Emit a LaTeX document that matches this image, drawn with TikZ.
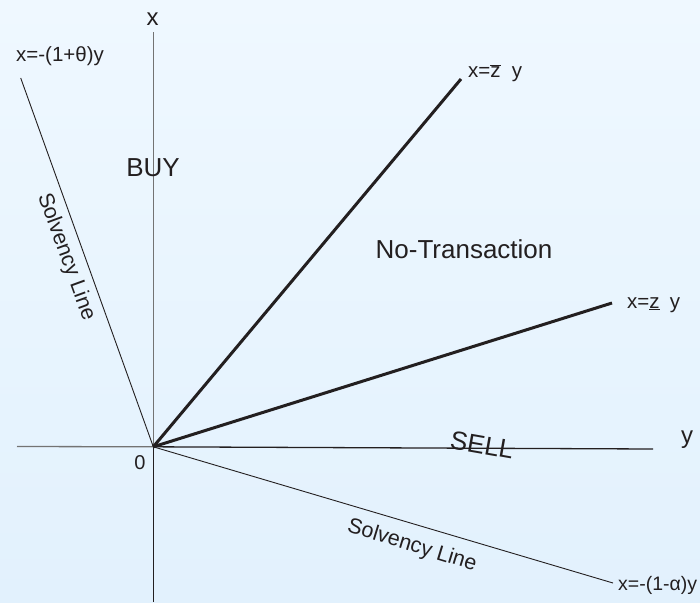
\documentclass[tikz,border=0pt]{standalone}
\usepackage{fontspec}
\setmainfont{Liberation Sans}
\definecolor{bgtop}{RGB}{239,248,255}
\definecolor{bgbot}{RGB}{226,241,253}
\definecolor{ink}{RGB}{35,31,32}
\definecolor{axisgray}{RGB}{115,115,115}
\begin{document}
\begin{tikzpicture}[x=1pt,y=-1pt,
  lbl/.style={inner sep=0pt, text=ink},
  eqlabel/.style={lbl, font=\fontsize{20.5}{24}\selectfont, anchor=base west},
  region/.style={lbl, font=\fontsize{26}{30}\selectfont},
  axislabel/.style={lbl, font=\fontsize{24}{28}\selectfont},
  slabel/.style={lbl, font=\fontsize{21.5}{25}\selectfont},
  axisgrey/.style={draw=axisgray, line width=1.3pt},
  axisdark/.style={draw=ink, line width=1.3pt},
  solvency/.style={draw=ink, line width=0.9pt},
  boundary/.style={draw=ink, line width=3pt}]
% background
\shade[top color=bgtop, bottom color=bgbot] (0,0) rectangle (700,602);
\useasboundingbox (0,0) rectangle (700,602);

% reference points
\coordinate (O) at (153.3,446.8);
\coordinate (xtop) at (153.3,32);
\coordinate (xbot) at (153.3,602);
\coordinate (yleft) at (17,446.5);
\coordinate (yright) at (653,449);
\coordinate (buyend) at (20.7,78);
\coordinate (sellend) at (613,583);
\coordinate (zupend) at (461,79);
\coordinate (zloend) at (612,303);

% axes
\draw[axisgrey] (O) -- (xtop);
\draw[axisgrey] (O) -- (yleft);
\draw[axisdark] (O) -- (xbot);
\draw[axisdark] (O) -- (yright);

% solvency lines
\draw[solvency] (O) -- (buyend);
\draw[solvency] (O) -- (sellend);

% no-transaction boundaries
\draw[boundary] (O) -- (zupend);
\draw[boundary] (O) -- (zloend);

% axis labels
\node[axislabel] (xlab) at (152.7,19) {x};
\node[axislabel] (ylab) at (687,440) {y};
\node[lbl, font=\fontsize{20}{24}\selectfont] (zero) at (140,463) {0};

% line labels
\node[eqlabel] (buylab) at (16,61.7) {x=-(1+θ)y};
\node[eqlabel, font=\fontsize{19.5}{23}\selectfont] (sellab) at (618,590) {x=-(1-α)y};
\node[eqlabel] (zuplab) at (468,77) {x=\ensuremath{\overline{\mbox{z}}}\hspace{0.55em}y};
\node[eqlabel] (zlolab) at (627,308) {x=\underline{z}\hspace{0.5em}y};

% region labels
\node[region] (buy) at (153,168) {BUY};
\node[region] (notr) at (464,249) {No-Transaction};
\node[region, rotate=-10] (sell) at (482,445) {SELL};

% solvency line labels
\node[slabel, rotate=-70] (solvup) at (66,257) {Solvency Line};
\node[slabel, rotate=-17] (solvlo) at (412,546) {Solvency Line};
\end{tikzpicture}
\end{document}
